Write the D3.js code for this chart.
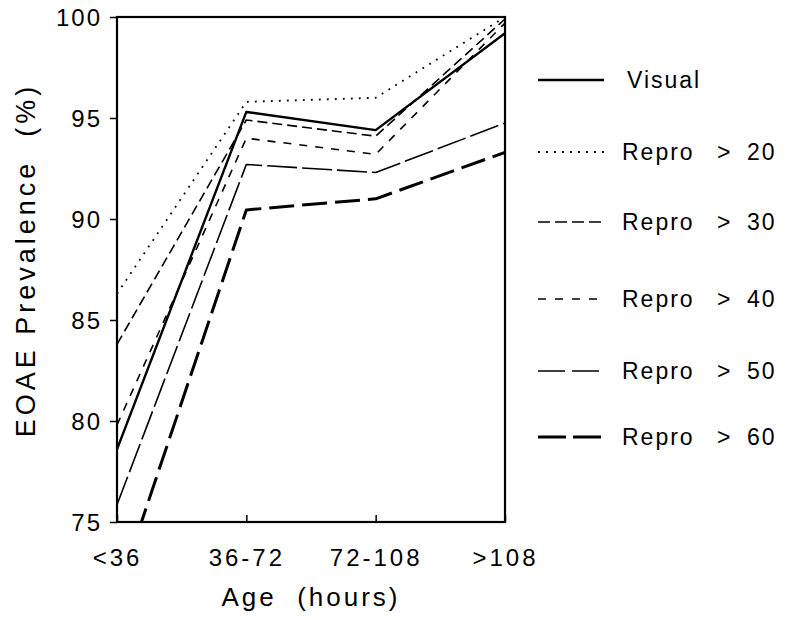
<!DOCTYPE html>
<html>
<head>
<meta charset="utf-8">
<script src="https://cdn.jsdelivr.net/npm/d3@7/dist/d3.min.js"></script>
<style>
  html, body { margin: 0; padding: 0; background: #fff; }
  svg { display: block; }
  text { font-family: "Liberation Sans", Arial, sans-serif; fill: #000; }
</style>
</head>
<body>
<svg id="chart" width="789" height="620"></svg>
<script>
// ---- data ----
const categories = ["<36", "36-72", "72-108", ">108"];
const yTicks = [75, 80, 85, 90, 95, 100];
const seriesNames = ["Visual", "Repro > 20", "Repro > 30", "Repro > 40", "Repro > 50", "Repro > 60"];
const visual  = [78.6, 95.3, 94.4, 99.2];
const repro20 = [86.3, 95.8, 96.0, 100.0];
const repro30 = [83.8, 94.9, 94.1, 99.9];
const repro40 = [79.8, 94.0, 93.2, 99.7];
const repro50 = [75.85, 92.7, 92.3, 94.75];
const repro60 = [71.4, 90.45, 91.0, 93.3];
const xTitle = "Age  (hours)";
const yTitle = "EOAE Prevalence  (%)";

// ---- styles ----
const styles = [
  { w: 2.4, dash: null,   legDash: null },
  { w: 1.8, dash: "1.8,6.2", legDash: "1.8,6.2" },
  { w: 1.6, dash: "10,5", legDash: "12,5" },
  { w: 1.6, dash: "8,8",  legDash: "8,9" },
  { w: 1.6, dash: "30,5", legDash: "27,7" },
  { w: 3.0, dash: "25,8", legDash: "28,7" }
];
const allSeries = [visual, repro20, repro30, repro40, repro50, repro60];

const svg = d3.select("#chart");
const L = 117, R = 505, T = 17, B = 522;

const x = d3.scalePoint().domain(categories).range([L, R]);
const y = d3.scaleLinear().domain([75, 100]).range([B, T]);

// clip
svg.append("defs").append("clipPath").attr("id", "plotclip")
  .append("rect").attr("x", L).attr("y", T).attr("width", R - L).attr("height", B - T);

// lines
const line = d3.line().x((d, i) => x(categories[i])).y(d => y(d));
const g = svg.append("g").attr("clip-path", "url(#plotclip)");
allSeries.forEach((s, k) => {
  g.append("path").datum(s)
    .attr("d", line)
    .attr("fill", "none")
    .attr("stroke", "#000")
    .attr("stroke-width", styles[k].w)
    .attr("stroke-linejoin", "round")
    .attr("stroke-dasharray", styles[k].dash);
});

// y axis
const yAxis = svg.append("g").attr("transform", `translate(${L},0)`)
  .call(d3.axisLeft(y).tickValues(yTicks).tickSize(7).tickPadding(8).tickFormat(d3.format("d")));
yAxis.select(".domain").remove();
yAxis.selectAll(".tick line").attr("stroke", "#000").attr("stroke-width", 1.5);
yAxis.selectAll(".tick text")
  .style("font-family", "'Liberation Sans', Arial, sans-serif")
  .attr("font-size", 24).attr("letter-spacing", 2).attr("dy", "0.36em");

// x axis
const xAxis = svg.append("g").attr("transform", `translate(0,${B})`)
  .call(d3.axisBottom(x).tickSizeInner(-7).tickSizeOuter(0).tickPadding(0));
xAxis.select(".domain").remove();
xAxis.selectAll(".tick line").attr("stroke", "#000").attr("stroke-width", 1.5);
xAxis.selectAll(".tick text")
  .style("font-family", "'Liberation Sans', Arial, sans-serif")
  .attr("font-size", 24).attr("letter-spacing", 3)
  .attr("y", 35).attr("dy", "0.36em");

// frame
svg.append("rect").attr("x", L).attr("y", T).attr("width", R - L).attr("height", B - T)
  .attr("fill", "none").attr("stroke", "#000").attr("stroke-width", 2.2);

// titles
svg.append("text").attr("x", 311).attr("y", 597).attr("dy", "0.36em")
  .attr("text-anchor", "middle").attr("font-size", 26).attr("letter-spacing", 3)
  .style("white-space", "pre")
  .text(xTitle);
svg.append("text")
  .attr("transform", "translate(25,260) rotate(-90)")
  .attr("dy", "0.36em")
  .attr("text-anchor", "middle").attr("font-size", 27).attr("letter-spacing", 4)
  .style("white-space", "pre")
  .text(yTitle);

// legend
const legY = [80, 152, 222, 299, 371, 437];
const leg = svg.append("g");
seriesNames.forEach((name, k) => {
  const yy = legY[k];
  leg.append("line").attr("x1", 538).attr("x2", 604).attr("y1", yy).attr("y2", yy)
    .attr("stroke", "#000").attr("stroke-width", styles[k].w)
    .attr("stroke-dasharray", styles[k].legDash);
  if (k === 0) {
    leg.append("text").attr("x", 627).attr("y", yy).attr("dy", "0.36em")
      .attr("font-size", 23).attr("letter-spacing", 2).text(name);
  } else {
    const parts = name.split(" > ");
    leg.append("text").attr("x", 622).attr("y", yy).attr("dy", "0.36em")
      .attr("font-size", 23).attr("letter-spacing", 2).text(parts[0]);
    leg.append("text").attr("x", 717).attr("y", yy).attr("dy", "0.36em")
      .attr("font-size", 23).text(">");
    leg.append("text").attr("x", 747).attr("y", yy).attr("dy", "0.36em")
      .attr("font-size", 23).attr("letter-spacing", 2).text(parts[1]);
  }
});
</script>
</body>
</html>
